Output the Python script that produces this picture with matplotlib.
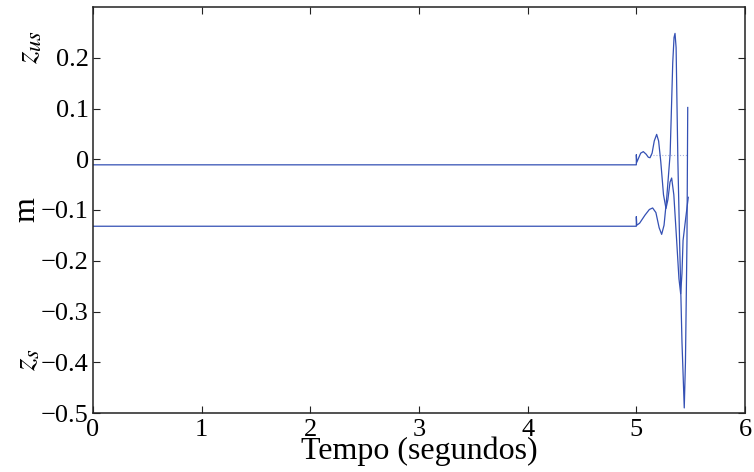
import numpy as np
import matplotlib
matplotlib.use("Agg")
import matplotlib.pyplot as plt

plt.rcParams["font.family"] = ["Liberation Serif", "DejaVu Serif"]
plt.rcParams["mathtext.fontset"] = "stix"

# z_us response (starts near -0.011)
t_us = [0.000, 5.000, 5.000, 5.004, 5.020, 5.040, 5.064, 5.090, 5.110, 5.126,
        5.145, 5.165, 5.187, 5.205, 5.225, 5.250, 5.273, 5.290, 5.310, 5.325,
        5.345, 5.371, 5.392, 5.408, 5.420, 5.430, 5.455, 5.478]
z_us = [-0.011, -0.011, 0.009, -0.006, 0.002, 0.012, 0.015, 0.010, 0.004, 0.003,
        0.012, 0.036, 0.049, 0.036, -0.005, -0.070, -0.097, -0.080, -0.045, -0.037,
        -0.070, -0.160, -0.235, -0.265, -0.225, -0.160, -0.115, -0.075]

# z_s response (starts near -0.132)
t_s = [0.000, 5.000, 5.000, 5.004, 5.030, 5.080, 5.120, 5.150, 5.180, 5.210,
       5.233, 5.255, 5.280, 5.311, 5.320, 5.335, 5.347, 5.356, 5.366, 5.382,
       5.398, 5.420, 5.441, 5.452, 5.466, 5.473]
z_s = [-0.132, -0.132, -0.113, -0.130, -0.126, -0.110, -0.099, -0.096, -0.105, -0.135,
       -0.148, -0.130, -0.075, 0.010, 0.076, 0.190, 0.240, 0.248, 0.220, 0.000,
       -0.160, -0.360, -0.490, -0.400, -0.160, 0.102]

# faint dotted reference segment
t_ref = [5.126, 5.475]
z_ref = [0.009, 0.009]

xticks = [0, 1, 2, 3, 4, 5, 6]
yticks = [-0.5, -0.4, -0.3, -0.2, -0.1, 0, 0.1, 0.2]
ytick_labels = ["\u22120.5", "\u22120.4", "\u22120.3", "\u22120.2", "\u22120.1", "0", "0.1", "0.2"]

fig = plt.figure(figsize=(7.54, 4.72), dpi=100)
ax = fig.add_axes([93/754, 1 - 413/472, (745 - 93)/754, (413 - 7)/472])

line_color = "#3450b4"
ax.plot(t_ref, z_ref, ":", color="#a9b5df", linewidth=0.8)
ax.plot(t_us, z_us, color=line_color, linewidth=0.9)
ax.plot(t_s, z_s, color=line_color, linewidth=0.9)

ax.set_xlim(0, 6)
ax.set_ylim(-0.5, 0.3)
ax.set_xticks(xticks)
ax.set_yticks(yticks)
ax.set_yticklabels(ytick_labels)
ax.tick_params(direction="in", length=5, width=0.8, labelsize=19,
               top=True, right=True, colors="#222222", labelcolor="black")
ax.tick_params(axis="x", pad=4)
ax.tick_params(axis="y", pad=3)
for s in ax.spines.values():
    s.set_linewidth(1.1)
    s.set_color("#222222")

ax.set_xlabel("Tempo (segundos)", fontsize=23, labelpad=-3)
ax.set_ylabel("m", fontsize=23, labelpad=0)

fig.text(30/754, 1 - 47/472, r"$z_{us}$", rotation=90, fontsize=23,
         ha="center", va="center")
fig.text(28/754, 1 - 360/472, r"$z_{s}$", rotation=90, fontsize=23,
         ha="center", va="center")

fig.savefig("out.png", dpi=100)
